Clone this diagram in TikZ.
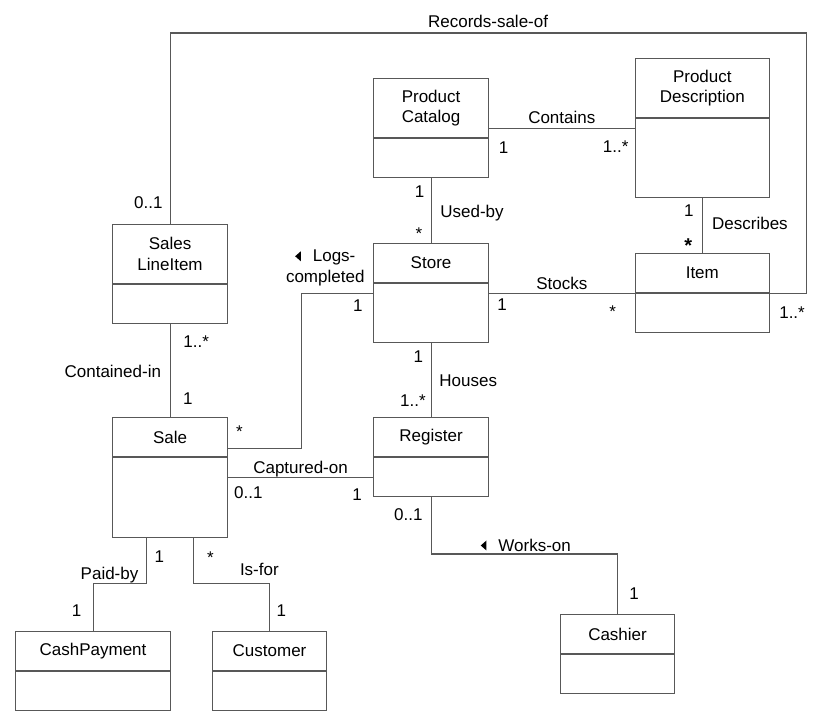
\documentclass[tikz,border=0pt]{standalone}
\usepackage{fontspec}
\setmainfont{Liberation Sans}
\usetikzlibrary{positioning}

\definecolor{linegray}{RGB}{88,88,88}
% small filled triangle for the reading direction
\newcommand{\lefttri}{\tikz[baseline=0pt]\fill (0pt,5.6pt) -- (5.7pt,10.6pt) -- (5.7pt,0.6pt) -- cycle;}

\begin{document}
\begin{tikzpicture}[
            x=1pt, y=1pt,
            font=\fontsize{17pt}{20.5pt}\selectfont,
            % class boxes: name part and empty attribute part
            classhead/.style={rectangle, draw=linegray, line width=1.1pt, minimum width=#1, minimum height=39pt, inner sep=0pt, align=center, anchor=north west},
            classhead/.default=115pt,
            classbody/.style={rectangle, draw=linegray, line width=1.1pt, minimum width=#1, minimum height=39pt, inner sep=0pt},
            classbody/.default=115pt,
            assoc/.style={draw=linegray, line width=1.1pt},
            lbl/.style={inner sep=0pt, text height=12pt, text depth=0pt},
            lbltwo/.style={inner sep=0pt, align=center}
        ]
        \useasboundingbox (0,0) rectangle (819,720);

        % Classes
        \node (catalog) [classhead, minimum height=59pt] at (373,642) {Product\\Catalog};
        \node (catalog-b) [classbody, below=0pt of catalog] {};
        \node (descr) [classhead=134.5pt, minimum height=59pt] at (634.5,662) {Product\\Description};
        \node (descr-b) [classbody=134.5pt, minimum height=79pt, below=0pt of descr] {};
        \node (salesli) [classhead, minimum height=59pt] at (112,496) {Sales\\LineItem};
        \node (salesli-b) [classbody, below=0pt of salesli] {};
        \node (store) [classhead] at (373,477) {Store};
        \node (store-b) [classbody, minimum height=59pt, below=0pt of store] {};
        \node (item) [classhead=134.5pt] at (634.5,467) {Item};
        \node (item-b) [classbody=134.5pt, below=0pt of item] {};
        \node (register) [classhead] at (373,303) {Register};
        \node (register-b) [classbody, below=0pt of register] {};
        \node (sale) [classhead] at (112,303) {Sale};
        \node (sale-b) [classbody, minimum height=80pt, below=0pt of sale] {};
        \node (cashier) [classhead=114pt] at (560,106) {Cashier};
        \node (cashier-b) [classbody=114pt, below=0pt of cashier] {};
        \node (cashpay) [classhead=155pt] at (15,89) {CashPayment};
        \node (cashpay-b) [classbody=155pt, below=0pt of cashpay] {};
        \node (customer) [classhead=114pt] at (212,89) {Customer};
        \node (customer-b) [classbody=114pt, below=0pt of customer] {};

        % Associations
        \draw [assoc] (item.south east) -- ++(36,0) node[lbl, pos=0.61, below=13pt] {1..*}
            |- ([yshift=191pt]salesli.north) node[lbl, pos=0.75, above=5pt] {Records-sale-of}
            -- (salesli.north) node[lbl, pos=0.89, left=7pt] {0..1};

        \draw [assoc] ([yshift=10pt]catalog.south east) -- ([yshift=10pt]catalog.south east -| descr-b.west)
            node[lbl, midway, above=3.7pt] {Contains}
            node[lbl, pos=0.1, below=12.7pt] {1}
            node[lbl, pos=0.87, below=12pt] {1..*};

        \draw [assoc] (catalog-b.south) -- (store.north)
            node[lbl, pos=0.2, left=6.3pt] {1}
            node[lbl, pos=0.52, right=8.8pt] {Used-by}
            node[lbl, pos=0.855, left=8.2pt] {*};

        \draw [assoc] (descr-b.south) -- (item.north)
            node[lbl, pos=0.22, left=8.3pt] {1}
            node[lbl, pos=0.46, right=9.3pt] {Describes}
            node[lbl, pos=0.875, left=9.5pt, font=\fontsize{20pt}{20pt}\selectfont\bfseries] {*};

        \draw [assoc] (store-b.east |- item.south west) -- (item.south west)
            node[lbl, midway, above=3.3pt] {Stocks}
            node[lbl, pos=0.09, below=5.3pt] {1}
            node[lbl, pos=0.85, below=12pt] {*};

        \draw [assoc] (store-b.south) -- (register.north)
            node[lbl, pos=0.18, left=7.5pt] {1}
            node[lbl, pos=0.5, right=7.8pt] {Houses}
            node[lbl, pos=0.78, left=4.8pt] {1..*};

        \draw [assoc] (register-b.south) |- ([yshift=60pt]cashier.north)
            node[lbl, pos=0.155, left=8pt] {0..1}
            node[lbl, pos=0.754, above=2.7pt] {\lefttri\hspace{12pt}Works-on}
            -- (cashier.north) node[lbl, pos=0.655, right=11.3pt] {1};

        \draw [assoc] (register-b.west -| sale-b.east) -- (register-b.west)
            node[lbl, midway, above=2.8pt] {Captured-on}
            node[lbl, pos=0.14, below=8.5pt] {0..1}
            node[lbl, pos=0.89, below=10.5pt] {1};

        \draw [assoc] ([yshift=9pt]sale.south east) -- ++(73,0) node[lbl, pos=0.155, above=10pt] {*}
            |- ([yshift=-10pt]store.south west)
            node[lbltwo, pos=0.668, above=7pt] {\lefttri\hspace{12pt}Logs-\\completed}
            node[lbl, pos=0.895, below=6.3pt] {1};

        \draw [assoc] (salesli-b.south) -- (sale.north)
            node[lbl, pos=0.19, right=12.8pt] {1..*}
            node[lbl, pos=0.505, left=8.5pt] {Contained-in}
            node[lbl, pos=0.8, right=12.5pt] {1};

        \draw [assoc] ([xshift=-23.5pt]sale-b.south) |- ([yshift=47.5pt]cashpay.north)
            node[lbl, pos=0.2, right=7.6pt] {1}
            node[lbl, pos=0.846, above=3.3pt] {Paid-by}
            -- (cashpay.north) node[lbl, pos=0.57, left=11.1pt] {1};

        \draw [assoc] ([xshift=23.5pt]sale-b.south) |- ([yshift=47.5pt]customer.north)
            node[lbl, pos=0.21, right=12.9pt] {*}
            node[lbl, pos=0.933, above=7.5pt] {Is-for}
            -- (customer.north) node[lbl, pos=0.57, right=6.6pt] {1};

    \end{tikzpicture}
\end{document}
